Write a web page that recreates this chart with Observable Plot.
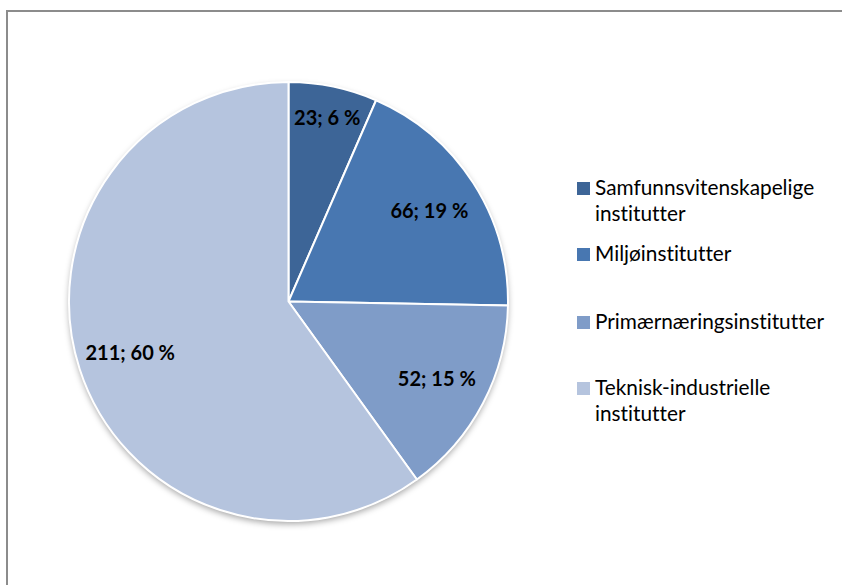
<!DOCTYPE html>
<html>
<head>
<meta charset="utf-8">
<script src="https://cdn.jsdelivr.net/npm/d3@7"></script>
<script src="https://cdn.jsdelivr.net/npm/@observablehq/plot@0.6"></script>
<style>
  html, body { margin: 0; padding: 0; background: #fff; overflow: hidden; }
  #wrap { position: relative; width: 842px; height: 585px; overflow: hidden; font-family: Lato, "Open Sans", sans-serif; font-variant-ligatures: none; font-feature-settings: "liga" 0, "clig" 0; }
  #frame { position: absolute; left: 6px; top: 10px; width: 1000px; height: 1000px; border: 2px solid #8c8c8c; box-sizing: border-box; pointer-events: none; }
  .leg { position: absolute; left: 577px; }
  .leg .sw { position: absolute; left: 0; width: 13px; height: 13px; }
  .leg .tx { position: absolute; left: 18px; width: 250px; font-size: 20.8px; line-height: 26px; color: #000; white-space: nowrap; }
  svg { position: absolute; left: 0; top: 0; }
  svg text { font-variant-ligatures: none; font-feature-settings: "liga" 0, "clig" 0; }
</style>
</head>
<body>
<div id="wrap"><div id="frame"></div></div>
<script>
// ---- data ----
const categories = ["Samfunnsvitenskapelige institutter", "Miljøinstitutter", "Primærnæringsinstitutter", "Teknisk-industrielle institutter"];
const legendLines = [["Samfunnsvitenskapelige", "institutter"], ["Miljøinstitutter"], ["Primærnæringsinstitutter"], ["Teknisk-industrielle", "institutter"]];
const counts = [23, 66, 52, 211];
const percents = [6, 19, 15, 60];

// ---- style ----
const colors = ["#3d6597", "#4877b1", "#7f9cc8", "#b5c4de"];

const data = categories.map((c, i) => ({category: c, value: counts[i], pct: percents[i], color: colors[i]}));
const total = d3.sum(counts);
const arcs = d3.pie().value(d => d.value).sort(null)(data);

// label positions in normalised (unit radius) coordinates
const labels = arcs.map(a => {
  const share = a.data.value / total;
  const r = share < 0.1 ? 0.855 : 0.76;
  const [cx, cy] = d3.arc().innerRadius(r).outerRadius(r).centroid(a);
  return {x: cx, y: -cy, text: `${a.data.value}; ${a.data.pct} %`};
});

function slices(index, scales, values, dimensions, context) {
  const x = scales.x, y = scales.y;
  const cx = x(0), cy = y(0);
  const R = (x(1) - x(-1)) / 2;
  const g = d3.create("svg:g");
  const defs = g.append("defs");
  const f = defs.append("filter").attr("id", "pieShadow").attr("x", "-20%").attr("y", "-20%").attr("width", "140%").attr("height", "140%");
  f.append("feDropShadow").attr("dx", 0).attr("dy", 3).attr("stdDeviation", 3).attr("flood-color", "#000").attr("flood-opacity", 0.35);
  const arc = d3.arc().innerRadius(0).outerRadius(R);
  const pg = g.append("g").attr("transform", `translate(${cx},${cy})`);
  pg.append("circle").attr("r", R).attr("fill", "#fff").attr("filter", "url(#pieShadow)");
  pg.selectAll("path").data(arcs).join("path")
    .attr("d", arc)
    .attr("fill", d => d.data.color)
    .attr("stroke", "#fff")
    .attr("stroke-width", 2)
    .attr("stroke-linejoin", "round");
  return g.node();
}

const chart = Plot.plot({
  width: 842,
  height: 585,
  margin: 0,
  style: {background: "transparent", overflow: "visible"},
  x: {domain: [-1, 1], range: [69, 508], axis: null},
  y: {domain: [-1, 1], range: [521, 82], axis: null},
  marks: [
    slices,
    Plot.text(labels, {x: "x", y: "y", text: "text", fontSize: 20, fontWeight: "bold", fontFamily: "Lato, 'Open Sans', sans-serif", fill: "#000", textAnchor: "middle", lineAnchor: "middle"})
  ]
});

const wrap = document.getElementById("wrap");
wrap.insertBefore(chart, wrap.firstChild);

// legend
const legTops = [174, 240, 308, 374];
legendLines.forEach((lines, i) => {
  const item = document.createElement("div");
  item.className = "leg";
  item.style.top = legTops[i] + "px";
  const sw = document.createElement("div");
  sw.className = "sw";
  sw.style.top = "8px";
  sw.style.background = colors[i];
  const tx = document.createElement("div");
  tx.className = "tx";
  tx.style.top = "0px";
  tx.innerHTML = lines.map(l => `<div>${l}</div>`).join("");
  item.appendChild(sw);
  item.appendChild(tx);
  wrap.appendChild(item);
});
</script>
</body>
</html>
